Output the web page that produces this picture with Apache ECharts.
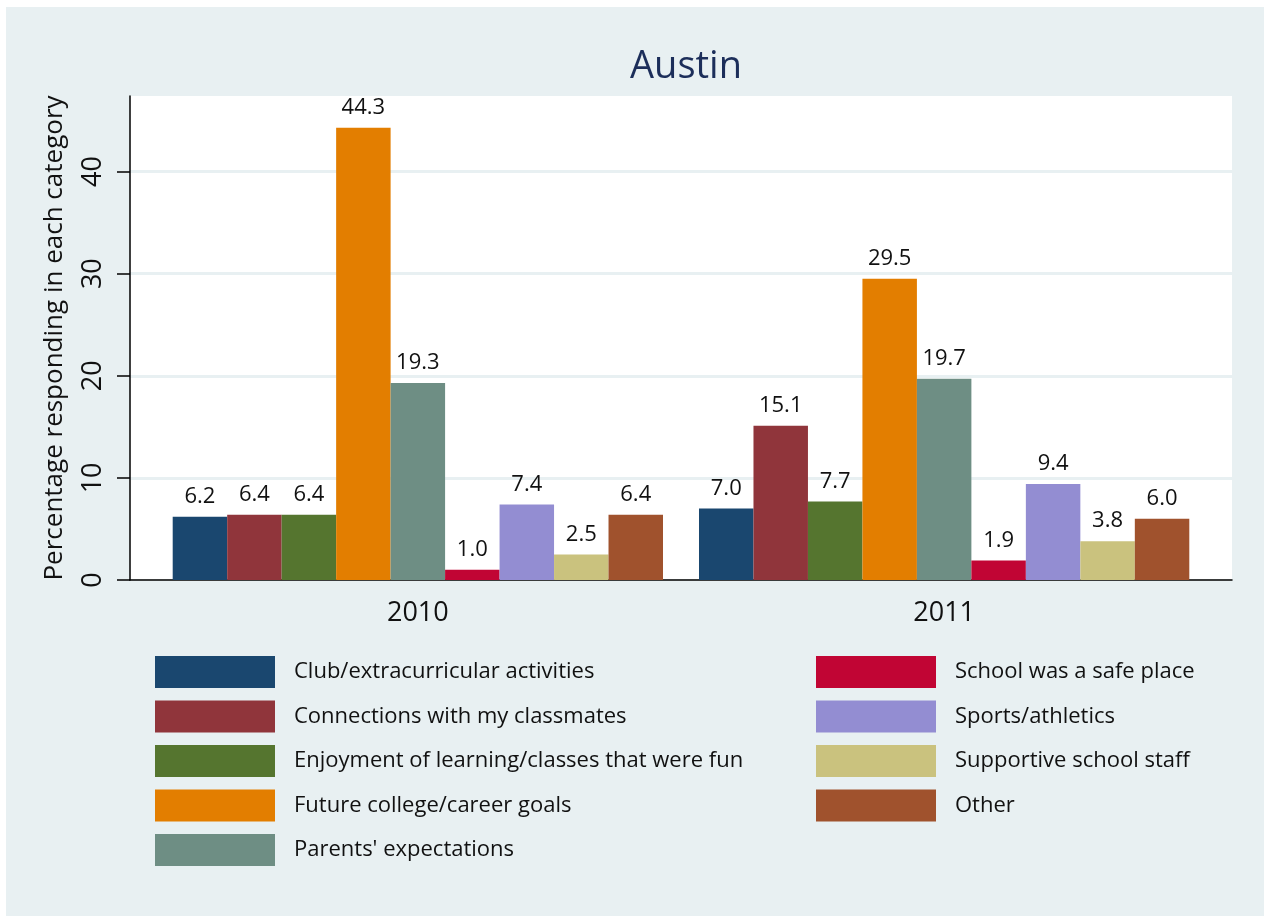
<!DOCTYPE html>
<html>
<head>
<meta charset="utf-8">
<script src="https://cdn.jsdelivr.net/npm/echarts@6/dist/echarts.min.js"></script>
<style>
  html, body { margin: 0; padding: 0; background: #ffffff; }
  #main { position: absolute; left: 6px; top: 7px; width: 1258px; height: 909px; background: #e8f0f2; }
</style>
</head>
<body>
<div id="main"></div>
<script>
// years on the x axis
var years = ['2010', '2011'];
// reasons (one bar series each)
var reasons = [
    'Club/extracurricular activities',
    'Connections with my classmates',
    'Enjoyment of learning/classes that were fun',
    'Future college/career goals',
    "Parents' expectations",
    'School was a safe place',
    'Sports/athletics',
    'Supportive school staff',
    'Other'
];
var values2010 = [6.2, 6.4, 6.4, 44.3, 19.3, 1.0, 7.4, 2.5, 6.4];
var values2011 = [7.0, 15.1, 7.7, 29.5, 19.7, 1.9, 9.4, 3.8, 6.0];
var yTicks = [0, 10, 20, 30, 40];

var colors = ['#1a476f', '#90353b', '#55752f', '#e37e00', '#6e8e84',
              '#c10534', '#938dd2', '#cac27e', '#a0522d'];
var font = '"Open Sans", "Noto Sans", sans-serif';

let series = reasons.map((name, i) => {
    return {
        name: name,
        type: 'bar',
        xAxisIndex: 1,
        yAxisIndex: 1,
        barGap: 0,
        barCategoryGap: '6.84%',
        itemStyle: { color: colors[i] },
        label: {
            show: true,
            position: 'top',
            distance: 9,
            color: '#111',
            fontFamily: font,
            fontSize: 22,
            formatter: p => p.value.toFixed(1)
        },
        data: [values2010[i], values2011[i]]
    };
});

let chart = echarts.init(document.getElementById('main'));
let legendBase = {
    orient: 'vertical',
    top: 644,
    itemWidth: 120,
    itemHeight: 32,
    itemGap: 12.5,
    icon: 'rect',
    textStyle: { color: '#111', fontFamily: font, fontSize: 22, padding: [0, 0, 0, 14] }
};
let option = {
    animation: false,
    color: colors,
    title: {
        text: 'Austin',
        left: 675,
        textAlign: 'center',
        top: 36,
        textStyle: { color: '#1c2e5a', fontFamily: font, fontSize: 38, fontWeight: 'normal' }
    },
    legend: [
        Object.assign({}, legendBase, { left: 144, data: reasons.slice(0, 5) }),
        Object.assign({}, legendBase, { left: 805, data: reasons.slice(5) })
    ],
    grid: [
        // plot region (white) with axes
        { left: 124, top: 89, width: 1102, height: 484, show: true, backgroundColor: '#ffffff', borderWidth: 0 },
        // inner region for bars
        { left: 148.7, top: 89, width: 1052.6, height: 484 }
    ],
    xAxis: [{
        type: 'category',
        gridIndex: 0,
        data: years,
        axisLine: { lineStyle: { color: '#000', width: 1.5 } },
        axisTick: { show: false },
        axisLabel: { show: false }
    }, {
        type: 'category',
        gridIndex: 1,
        data: years,
        axisLine: { show: false },
        axisTick: { show: false },
        axisLabel: { color: '#111', fontFamily: font, fontSize: 27, margin: 20 }
    }],
    yAxis: [{
        type: 'value',
        gridIndex: 0,
        min: 0,
        max: 47.4,
        interval: 10,
        name: 'Percentage responding in each category',
        nameLocation: 'middle',
        nameGap: 62,
        nameTextStyle: { color: '#111', fontFamily: font, fontSize: 26 },
        axisLine: { show: true, lineStyle: { color: '#000', width: 1.5 } },
        axisTick: { show: true, length: 13, lineStyle: { color: '#000', width: 1.5 }, customValues: yTicks },
        axisLabel: { rotate: 90, color: '#111', fontFamily: font, fontSize: 27, margin: 23, customValues: yTicks },
        splitLine: { show: true, lineStyle: { color: '#e8f0f2', width: 3 } }
    }, {
        type: 'value',
        gridIndex: 1,
        min: 0,
        max: 47.4,
        show: false,
        splitLine: { show: false }
    }],
    series: series
};
chart.setOption(option);
</script>
</body>
</html>
